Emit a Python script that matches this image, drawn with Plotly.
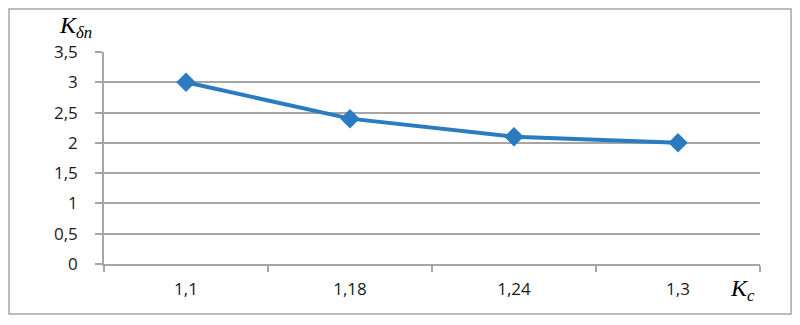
import plotly.graph_objects as go

categories = ["1,1", "1,18", "1,24", "1,3"]
values = [3.0, 2.4, 2.1, 2.0]
y_ticks = [0, 0.5, 1, 1.5, 2, 2.5, 3, 3.5]

GRID = "#a6a6a6"
BLUE = "#2a7bbf"
TXT = "#1a1a1a"
TICKFONT = dict(family="Open Sans", size=17, color=TXT)

fig = go.Figure()
fig.add_trace(go.Scatter(
    x=categories, y=values, mode="lines+markers",
    line=dict(color=BLUE, width=4),
    marker=dict(symbol="diamond", size=15, color=BLUE),
    showlegend=False,
))

fig.update_layout(
    width=800, height=325,
    margin=dict(l=104, r=40, t=52, b=61),
    paper_bgcolor="white", plot_bgcolor="white",
    separators=", ",
    font=dict(family="Open Sans", size=17, color=TXT),
    xaxis=dict(
        type="category", range=[-0.5, 3.5], tickson="boundaries",
        ticks="outside", ticklen=6, tickcolor=GRID, tickwidth=1.5,
        showline=True, linecolor=GRID, linewidth=1.5,
        showgrid=False, ticklabelstandoff=9, tickfont=TICKFONT,
    ),
    yaxis=dict(
        range=[0, 3.5], tickvals=y_ticks,
        ticks="outside", ticklen=7, tickcolor=GRID, tickwidth=1.5,
        showline=True, linecolor=GRID, linewidth=1.5,
        showgrid=True, gridcolor=GRID, gridwidth=1.5,
        zeroline=False, ticklabelstandoff=14, tickfont=TICKFONT,
    ),
    shapes=[dict(
        type="rect", xref="paper", yref="paper",
        x0=-0.1448, x1=1.0473, y0=-0.2358, y1=1.2028,
        line=dict(color="#a6a6a6", width=1.5), fillcolor="rgba(0,0,0,0)",
    )],
    annotations=[
        dict(xref="paper", yref="paper", x=-0.0427, y=1.118,
             xanchor="center", yanchor="middle",
             text="<i>K<sub>δn</sub></i>", showarrow=False,
             font=dict(family="Liberation Serif", size=24, color="#000")),
        dict(xref="paper", yref="paper", x=0.974, y=-0.1226,
             xanchor="center", yanchor="middle",
             text="<i>K<sub>c</sub></i>", showarrow=False,
             font=dict(family="Liberation Serif", size=24, color="#000")),
    ],
)

fig.write_html("out.html")
